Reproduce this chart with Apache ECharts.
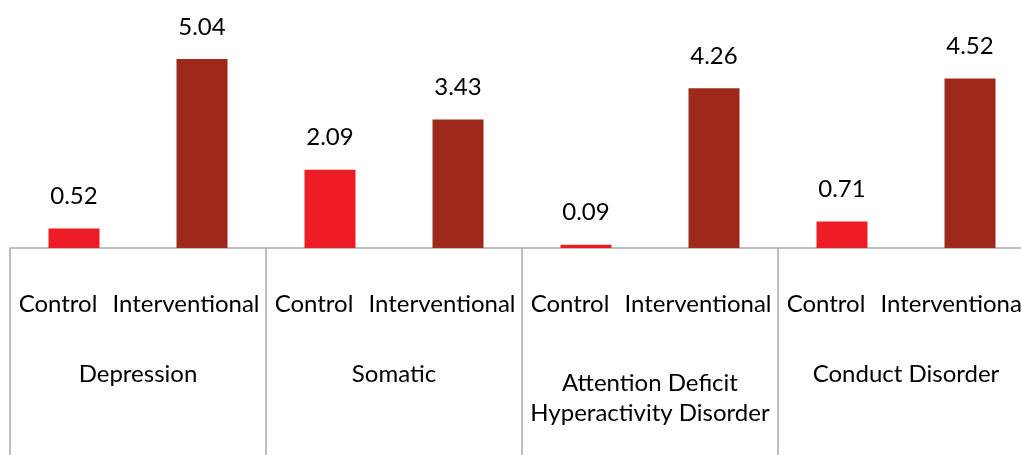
<!DOCTYPE html>
<html>
<head>
<meta charset="utf-8">
<script src="https://cdn.jsdelivr.net/npm/echarts@6/dist/echarts.min.js"></script>
<style>
  html, body { margin: 0; padding: 0; background: #fff; }
  #main { width: 1021px; height: 455px; }
</style>
</head>
<body>
<div id="main"></div>
<script>
const groups = ["Depression", "Somatic", "Attention Deficit Hyperactivity Disorder", "Conduct Disorder"];
const arms = ["Control", "Interventional"];
const controlValues = [0.52, 2.09, 0.09, 0.71];
const interventionalValues = [5.04, 3.43, 4.26, 4.52];

const armColors = ["#ED1C24", "#9E2819"];
const axisGray = "#A9A9A9";
const font = "Lato";
const fs = 24;

// one category per bar: Control, Interventional for each group
const barCategories = [];
const barData = [];
groups.forEach((g, i) => {
  barCategories.push(arms[0], arms[1]);
  barData.push({ value: controlValues[i], itemStyle: { color: armColors[0] } });
  barData.push({ value: interventionalValues[i], itemStyle: { color: armColors[1] } });
});

const chart = echarts.init(document.getElementById("main"));
chart.setOption({
  animation: false,
  grid: { left: 10, top: 23, width: 1024, bottom: 207, containLabel: false, outerBoundsMode: "none" },
  xAxis: [
    {
      type: "category",
      data: barCategories,
      axisLine: { show: true, lineStyle: { color: axisGray, width: 1.5 } },
      axisTick: { show: false },
      axisLabel: {
        interval: 0,
        margin: 45,
        lineHeight: 22,
        fontFamily: font,
        fontSize: fs,
        color: "#000",
        padding: [0, 32, 0, 0]
      }
    },
    {
      type: "category",
      position: "bottom",
      data: groups,
      axisLine: { show: false },
      axisTick: {
        show: true,
        interval: 0,
        length: 210,
        lineStyle: { color: axisGray, width: 1.5 }
      },
      axisLabel: {
        interval: 0,
        margin: 120,
        lineHeight: 12,
        fontFamily: font,
        fontSize: fs,
        color: "#000",
        formatter: function (v) {
          if (v.indexOf("Attention") === 0) {
            return "{two|Attention Deficit}\n{two|Hyperactivity Disorder}";
          }
          return v;
        },
        rich: {
          two: { lineHeight: 30, fontFamily: font, fontSize: fs, color: "#000" }
        }
      }
    }
  ],
  yAxis: {
    type: "value",
    min: 0,
    max: 6,
    show: false,
    splitLine: { show: false }
  },
  series: [
    {
      type: "bar",
      xAxisIndex: 0,
      barWidth: 51,
      data: barData,
      label: {
        show: true,
        position: "top",
        distance: 20,
        fontFamily: font,
        fontSize: fs,
        color: "#000",
        formatter: function (p) { return p.value.toFixed(2); }
      }
    }
  ]
});
</script>
</body>
</html>
